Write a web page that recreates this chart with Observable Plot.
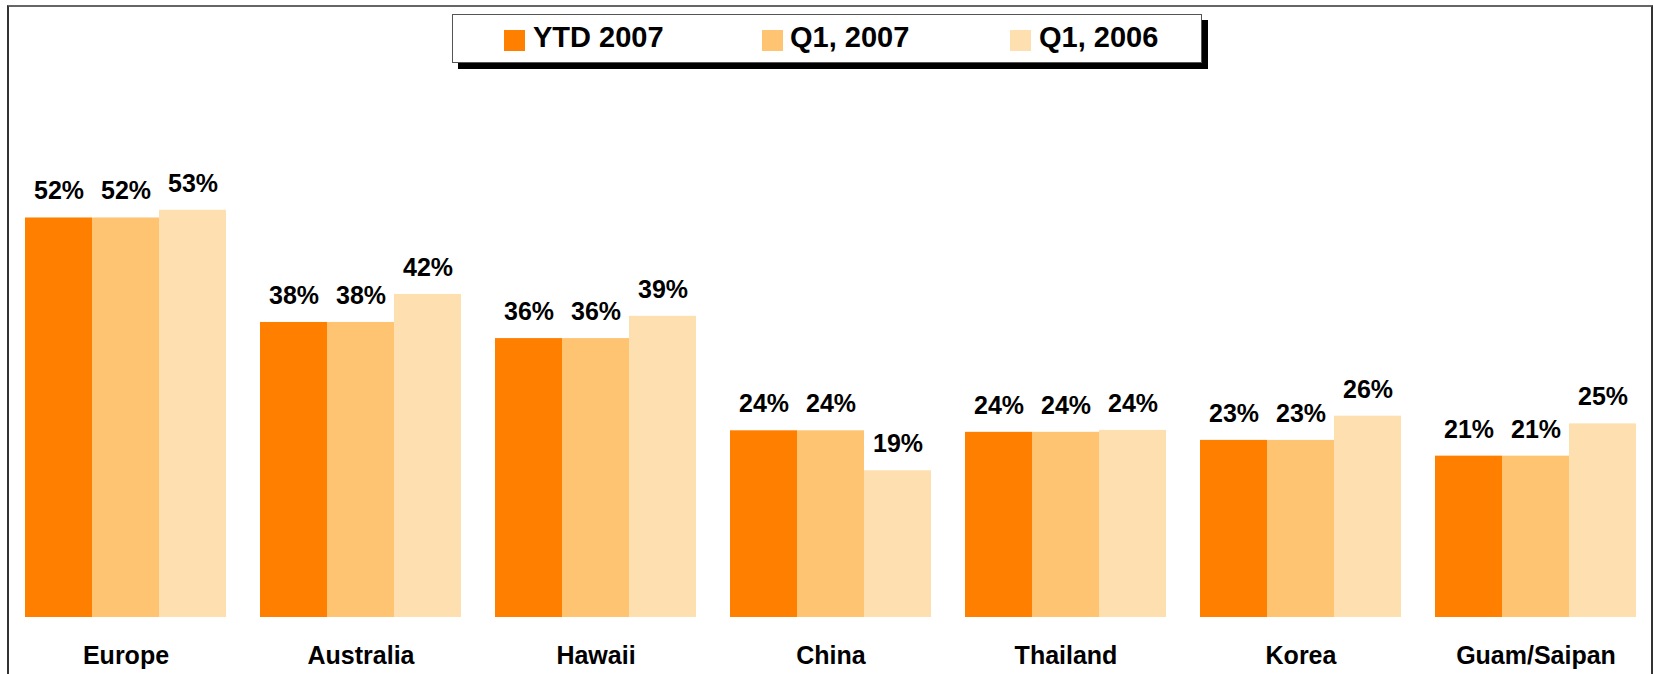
<!DOCTYPE html>
<html>
<head>
<meta charset="utf-8">
<script src="https://cdn.jsdelivr.net/npm/d3@7"></script>
<script src="https://cdn.jsdelivr.net/npm/@observablehq/plot@0.6"></script>
<style>
  html, body { margin: 0; padding: 0; background: #fff; }
  #wrap { position: relative; width: 1654px; height: 674px; overflow: hidden; font-family: "Liberation Sans", Arial, sans-serif; }
  #chart { position: absolute; left: 0; top: 0; }
  #frame { position: absolute; left: 7px; top: 5px; width: 1642px; height: 700px;
           border-top: 2px solid #666; border-left: 2px solid #333; border-right: 2px solid #333; }
  #legend { position: absolute; left: 452px; top: 14px; width: 748px; height: 47px;
            border: 1px solid #555; background: #fff; box-shadow: 6px 6px 0 #000; }
  .sw { position: absolute; top: 30px; width: 21px; height: 21px; }
  .lt { position: absolute; top: 23px; font-size: 29px; font-weight: bold; line-height: 1; color: #000; white-space: nowrap; }
</style>
</head>
<body>
<div id="wrap">
  <div id="chart"></div>
  <div id="frame"></div>
  <div id="legend"></div>
</div>
<script>
const regions = ["Europe", "Australia", "Hawaii", "China", "Thailand", "Korea", "Guam/Saipan"];
const series = ["YTD 2007", "Q1, 2007", "Q1, 2006"];
const colors = ["#FF7F00", "#FEC472", "#FEDFB0"];
const ytd2007 = [52.0, 38.4, 36.3, 24.3, 24.1, 23.05, 21.0];
const q1_2007 = [52.0, 38.4, 36.3, 24.3, 24.1, 23.05, 21.0];
const q1_2006 = [53.0, 42.05, 39.2, 19.1, 24.35, 26.2, 25.2];
const values = [ytd2007, q1_2007, q1_2006];

const data = regions.flatMap((r, i) => series.map((s, j) => ({region: r, series: s, value: values[j][i]})));

const chart = Plot.plot({
  width: 1654,
  height: 674,
  marginTop: 156,
  marginBottom: 57,
  marginLeft: 23,
  marginRight: 17,
  style: {fontFamily: "'Liberation Sans', Arial, sans-serif", color: "#000", background: "transparent", overflow: "visible"},
  fx: {domain: regions, paddingInner: 0.138, paddingOuter: 0, axis: null},
  x: {domain: series, padding: 0, axis: null},
  y: {domain: [0, 60], axis: null},
  color: {domain: series, range: colors},
  marks: [
    Plot.barY(data, {fx: "region", x: "series", y: "value", fill: "series", inset: 0}),
    Plot.text(data, {fx: "region", x: "series", y: "value", text: d => Math.round(d.value) + "%",
      lineAnchor: "bottom", dy: -18.5, fontSize: 25, fontWeight: "bold", fill: "#000"}),
    Plot.text(regions, {fx: d => d, frameAnchor: "bottom", lineAnchor: "bottom", dy: 46,
      text: d => d, fontSize: 25, fontWeight: "bold", fill: "#000"})
  ]
});
document.getElementById("chart").appendChild(chart);

// legend
const legend = document.getElementById("legend");
const swLeft = [504, 762, 1010];
const txLeft = [533, 790, 1039];
series.forEach((s, i) => {
  const sw = document.createElement("div");
  sw.className = "sw";
  sw.style.left = (swLeft[i] - 453) + "px";
  sw.style.top = (30 - 15) + "px";
  sw.style.background = colors[i];
  legend.appendChild(sw);
  const t = document.createElement("div");
  t.className = "lt";
  t.style.left = (txLeft[i] - 453) + "px";
  t.style.top = (23 - 15) + "px";
  t.textContent = s;
  legend.appendChild(t);
});
</script>
</body>
</html>
